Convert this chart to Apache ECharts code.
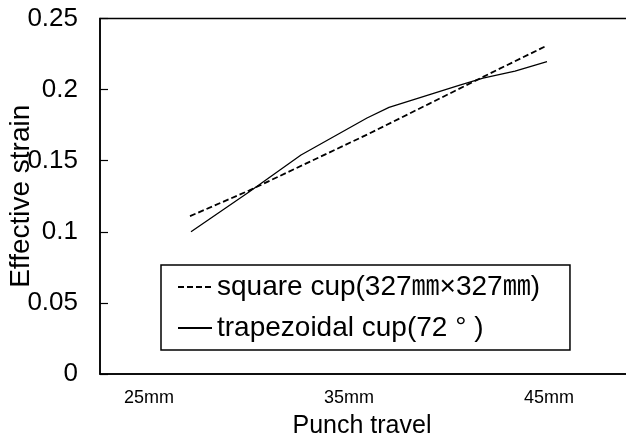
<!DOCTYPE html>
<html>
<head>
<meta charset="utf-8">
<script src="https://cdn.jsdelivr.net/npm/echarts@6/dist/echarts.min.js"></script>
<style>
  html, body { margin: 0; padding: 0; background: #fff; }
  #main { width: 626px; height: 445px; }
</style>
</head>
<body>
<div id="main"></div>
<script>
// punch travel (mm) / effective strain
var squareCup = [[27.05, 0.111], [30, 0.129], [33, 0.149], [36, 0.169], [39, 0.190], [42, 0.211], [44.9, 0.231]];
var trapezoidalCup = [[27.1, 0.100], [30, 0.128], [32.6, 0.154], [35.9, 0.180], [37.0, 0.1875], [40.5, 0.203], [41.7, 0.208], [43.3, 0.213], [44.9, 0.2196]];
var xTicks = [25, 35, 45];
var seriesNames = ['square cup(327㎜×327㎜)', 'trapezoidal cup(72 ° )'];

var font = "'Liberation Sans', 'Noto Sans CJK KR', sans-serif";

var myChart = echarts.init(document.getElementById('main'));
myChart.setOption({
  animation: false,
  backgroundColor: '#fff',
  grid: {
    left: 100, top: 18.5, right: -24, bottom: 71,
    show: true, borderColor: '#000', borderWidth: 1.5,
    outerBoundsMode: 'none'
  },
  legend: {
    orient: 'vertical',
    left: 161, top: 265,
    padding: [8, 30, 8, 16],
    borderColor: '#000', borderWidth: 1.5,
    itemWidth: 34, itemHeight: 14, itemGap: 13,
    itemStyle: { opacity: 0 },
    textStyle: { fontSize: 28, fontFamily: font, color: '#000', lineHeight: 28 },
    data: seriesNames
  },
  xAxis: {
    type: 'value',
    min: 22.55, max: 50.05,
    name: 'Punch travel',
    nameLocation: 'middle',
    nameGap: 40,
    nameMoveOverlap: false,
    nameTextStyle: { fontSize: 25, fontFamily: font, color: '#000', padding: [0, 26, 0, 0] },
    splitLine: { show: false },
    axisLine: { lineStyle: { color: '#000', width: 1.5 } },
    axisTick: { show: false },
    axisLabel: {
      customValues: xTicks,
      formatter: function (v) { return v + 'mm'; },
      fontSize: 18, fontFamily: font, color: '#000', margin: 15
    }
  },
  yAxis: {
    type: 'value',
    min: 0, max: 0.25, interval: 0.05,
    name: 'Effective strain',
    nameLocation: 'middle',
    nameRotate: 90,
    nameGap: 65,
    nameMoveOverlap: false,
    nameTextStyle: { fontSize: 28, fontFamily: font, color: '#000' },
    splitLine: { show: false },
    axisLine: { lineStyle: { color: '#000', width: 1.5 } },
    axisTick: { inside: true, length: 8, lineStyle: { color: '#000', width: 1.2 } },
    axisLabel: { fontSize: 26, fontFamily: font, color: '#000', margin: 22 }
  },
  series: [
    {
      name: seriesNames[0],
      type: 'line',
      symbol: 'none',
      data: squareCup,
      lineStyle: { color: '#000', width: 1.8, type: [6, 3] },
      itemStyle: { color: '#000' }
    },
    {
      name: seriesNames[1],
      type: 'line',
      symbol: 'none',
      data: trapezoidalCup,
      lineStyle: { color: '#000', width: 1.3, type: 'solid' },
      itemStyle: { color: '#000' }
    }
  ]
});
</script>
</body>
</html>
